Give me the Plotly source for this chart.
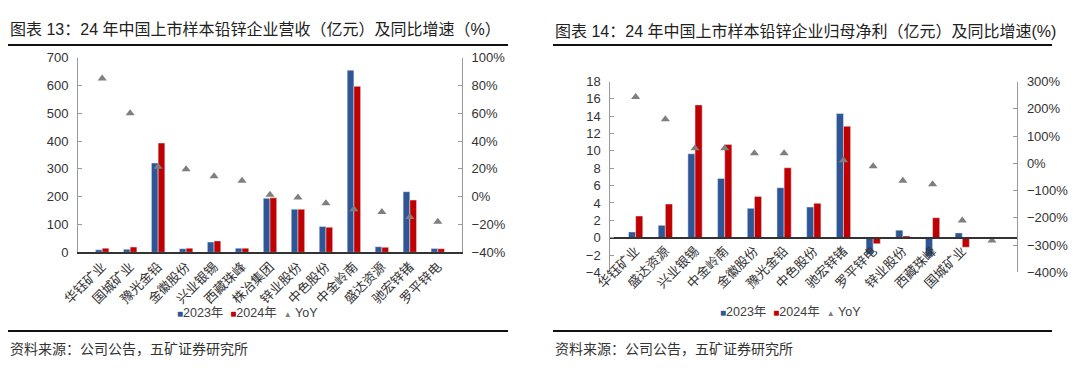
import plotly.graph_objects as go

# ---------------- Data: chart 13 (revenue) ----------------
cats1 = ["华钰矿业", "国城矿业", "豫光金铅", "金徽股份", "兴业银锡", "西藏珠峰", "株冶集团",
         "锌业股份", "中色股份", "中金岭南", "盛达资源", "驰宏锌锗", "罗平锌电"]
rev2023 = [9, 11, 321, 13, 37, 15, 194, 155, 93, 655, 20, 218, 14]
rev2024 = [15, 19, 393, 15, 41, 15, 196, 155, 90, 597, 18, 188, 13]
rev_yoy = [85, 60, 21.6, 19.7, 14.7, 11.5, 1.4, -0.5, -4.8, -9, -11, -14.6, -18]

# ---------------- Data: chart 14 (net profit) ----------------
cats2 = ["华钰矿业", "盛达资源", "兴业银锡", "中金岭南", "金徽股份", "豫光金铅", "中色股份",
         "驰宏锌锗", "罗平锌电", "锌业股份", "西藏珠峰", "国城矿业", " "]
np2023 = [0.66, 1.42, 9.67, 6.83, 3.38, 5.76, 3.53, 14.3, -1.9, 0.87, -2.2, 0.55, None]
np2024 = [2.5, 3.88, 15.3, 10.75, 4.76, 8.06, 3.96, 12.85, -0.7, 0.2, 2.3, -1.1, None]
np_yoy = [243, 162, 55, 55, 37, 37, None, 11, -11, -64, -77, -210, -283]

series_names = ["2023年", "2024年", "YoY"]

BLUE = "#2F5597"
RED = "#C00000"
GRAY = "#7F7F7F"
FONT = "Liberation Sans, Noto Sans CJK SC, sans-serif"
TXT = "#333333"

fig = go.Figure()

# Chart 1
fig.add_trace(go.Bar(x=cats1, y=rev2023, name=series_names[0], marker_color=BLUE,
                     xaxis="x", yaxis="y", showlegend=False))
fig.add_trace(go.Bar(x=cats1, y=rev2024, name=series_names[1], marker_color=RED,
                     xaxis="x", yaxis="y", showlegend=False))
fig.add_trace(go.Scatter(x=cats1, y=rev_yoy, name=series_names[2], mode="markers",
                         marker=dict(symbol="triangle-up", size=8, color=GRAY),
                         xaxis="x", yaxis="y2", showlegend=False))

# Chart 2
fig.add_trace(go.Bar(x=cats2, y=np2023, name=series_names[0], marker_color=BLUE,
                     xaxis="x2", yaxis="y3", showlegend=False))
fig.add_trace(go.Bar(x=cats2, y=np2024, name=series_names[1], marker_color=RED,
                     xaxis="x2", yaxis="y3", showlegend=False))
fig.add_trace(go.Scatter(x=cats2, y=np_yoy, name=series_names[2], mode="markers",
                         marker=dict(symbol="triangle-up", size=8, color=GRAY),
                         xaxis="x2", yaxis="y4", showlegend=False))

# domains (paper coords)
x1d = [78 / 1080, 462 / 1080]
y1d = [1 - 252.3 / 375, 1 - 57.7 / 375]
x2d = [610.3 / 1080, 1017.3 / 1080]
y2d = [1 - 272.4 / 375, 1 - 81.5 / 375]
y2lo, y2hi = -4, 18
zero_pos = y2d[0] + (0 - y2lo) / (y2hi - y2lo) * (y2d[1] - y2d[0])

tickfont = dict(family=FONT, size=13, color=TXT)
yax_common = dict(showline=True, linecolor="#999999", linewidth=1, ticks="inside",
                  ticklen=4, tickcolor="#999999", showgrid=False, zeroline=False,
                  tickfont=tickfont, ticklabelstandoff=6, automargin=False)

fig.update_layout(
    width=1080, height=375,
    margin=dict(l=0, r=0, t=0, b=0, autoexpand=False),
    paper_bgcolor="white", plot_bgcolor="white",
    barmode="group", bargap=0.52, bargroupgap=0,
    font=dict(family=FONT, color=TXT),
    showlegend=False,
    xaxis=dict(domain=x1d, anchor="y", type="category", tickangle=-45,
               showline=True, linecolor="#333333", linewidth=1.5, ticks="",
               tickfont=tickfont, showgrid=False, automargin=False),
    yaxis=dict(domain=y1d, anchor="x", range=[0, 700], dtick=100, **yax_common),
    yaxis2=dict(overlaying="y", side="right", anchor="x", range=[-40, 100], dtick=20,
                ticksuffix="%", **yax_common),
    xaxis2=dict(domain=x2d, anchor="free", position=zero_pos, type="category",
                tickangle=-45, showline=True, linecolor="#333333", linewidth=1.5,
                ticks="", tickfont=tickfont, showgrid=False, automargin=False),
    yaxis3=dict(domain=y2d, anchor="x2", range=[y2lo, y2hi], dtick=2, **yax_common),
    yaxis4=dict(overlaying="y3", side="right", anchor="x2", range=[-400, 300], dtick=100,
                ticksuffix="%", **yax_common),
)

# Legends (compact, drawn as text with coloured symbols)
legend_text = (f"<span style='color:{BLUE}; font-size:10px'>■</span>{series_names[0]}  "
               f"<span style='color:{RED}; font-size:10px'>■</span>{series_names[1]}  "
               f"<span style='color:{GRAY}; font-size:8px'>▲</span> {series_names[2]}")
leg_font = dict(family=FONT, size=12.5, color="#404040")
fig.add_annotation(text=legend_text, xref="paper", yref="paper", x=247 / 1080,
                   y=1 - 313 / 375, xanchor="center", yanchor="middle",
                   showarrow=False, font=leg_font)
fig.add_annotation(text=legend_text, xref="paper", yref="paper", x=790 / 1080,
                   y=1 - 312 / 375, xanchor="center", yanchor="middle",
                   showarrow=False, font=leg_font)

# Titles, source notes
title_font = dict(family=FONT, size=16, color="#222222")
src_font = dict(family=FONT, size=14, color="#333333")
fig.add_annotation(text="图表 13：24 年中国上市样本铅锌企业营收（亿元）及同比增速（%）",
                   xref="paper", yref="paper", x=8 / 1080, y=1 - 29 / 375,
                   xanchor="left", yanchor="middle", showarrow=False, font=title_font)
fig.add_annotation(text="图表 14：24 年中国上市样本铅锌企业归母净利（亿元）及同比增速(%)",
                   xref="paper", yref="paper", x=553 / 1080, y=1 - 31 / 375,
                   xanchor="left", yanchor="middle", showarrow=False, font=title_font)
fig.add_annotation(text="资料来源：公司公告，五矿证券研究所",
                   xref="paper", yref="paper", x=8 / 1080, y=1 - 349 / 375,
                   xanchor="left", yanchor="middle", showarrow=False, font=src_font)
fig.add_annotation(text="资料来源：公司公告，五矿证券研究所",
                   xref="paper", yref="paper", x=553 / 1080, y=1 - 349 / 375,
                   xanchor="left", yanchor="middle", showarrow=False, font=src_font)

# separator lines
for x0, x1 in [(8, 508), (553, 1052)]:
    for yy in (45, 331):
        fig.add_shape(type="line", xref="paper", yref="paper",
                      x0=x0 / 1080, x1=x1 / 1080, y0=1 - yy / 375, y1=1 - yy / 375,
                      line=dict(color="#111111", width=2))

fig.write_html("out.html",
               config={"displayModeBar": False},
               post_script="document.body.style.margin='0';"
                           "document.body.style.padding='0';"
                           "document.body.style.overflow='hidden';")
